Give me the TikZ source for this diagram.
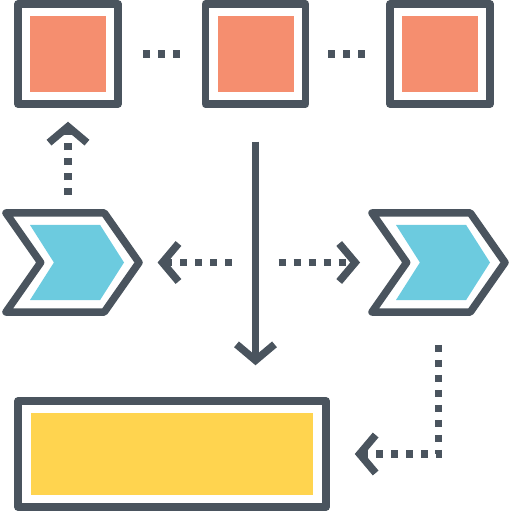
\documentclass[tikz,border=0pt]{standalone}
\usetikzlibrary{arrows.meta, positioning, shapes.symbols}

\definecolor{slate}{HTML}{4A545E}
\definecolor{salmon}{HTML}{F58E6F}
\definecolor{skyfill}{HTML}{6CCBDF}
\definecolor{sunfill}{HTML}{FFD44F}

\begin{document}
\begin{tikzpicture}[
  x=0.5pt, y=-0.5pt,
  frame/.style={rectangle, draw=slate, line width=3.75pt, line join=round,
    minimum width=50pt, minimum height=50pt, inner sep=0pt},
  tile/.style={rectangle, fill=salmon, minimum width=38pt, minimum height=38pt,
    inner sep=0pt},
  chev/.style={signal, signal to=east, signal from=west, signal pointer angle=110,
    draw=slate, line width=3.75pt, line join=round,
    minimum width=66.5pt, minimum height=49.5pt, inner sep=0pt},
  chevfill/.style={signal, signal to=east, signal from=west, signal pointer angle=115,
    fill=skyfill, minimum width=47pt, minimum height=37.5pt, inner sep=0pt},
  bar/.style={rectangle, draw=slate, line width=3.75pt, line join=round,
    minimum width=154pt, minimum height=53pt, inner sep=0pt},
  barfill/.style={rectangle, fill=sunfill, minimum width=141pt, minimum height=41pt,
    inner sep=0pt},
  flow/.style={-{Straight Barb[length=8pt, width=19pt, sharp]}, draw=slate,
    line width=3.75pt},
  dots/.style={draw=slate, line width=3.75pt, dash pattern=on 3.5pt off 4pt},
  dotarr/.style={dots, -{Straight Barb[length=8pt, width=19pt, sharp]}},
]
\useasboundingbox (0,0) rectangle (512,512);

% Top row of squares
\node[frame] (sq1) at (68,54) {};
\node[frame, right=40pt of sq1] (sq2) {};
\node[frame, right=38.5pt of sq2] (sq3) {};
\node[tile] (tile1) at (sq1) {};
\node[tile] (tile2) at (sq2) {};
\node[tile] (tile3) at (sq3) {};

% Chevrons
\node[chev] (lchev) at (72.5,262.5) {};
\node[chev] (rchev) at (438.5,262.5) {};
\node[chevfill, xshift=2.25pt] (lfill) at (lchev) {};
\node[chevfill, xshift=2.25pt] (rfill) at (rchev) {};

% Bottom bar
\node[bar] (bar) at (172,454) {};
\node[barfill] (fill) at (bar) {};

% Links
\draw[dots, shorten <=10.5pt, shorten >=11pt] (sq1) -- (sq2);
\draw[dots, shorten <=9.5pt, shorten >=10.4pt] (sq2) -- (sq3);
\draw[flow, shorten <=17pt, shorten >=16pt] (sq2) -- (sq2 |- bar.north);

\coordinate (hub) at (sq2 |- lchev);
\draw[dotarr, shorten <=12pt, shorten >=7pt] (hub) -- (lchev);
\draw[dotarr, shorten <=11.5pt, shorten >=21pt] (hub) -- (rchev.west);
\draw[dotarr, shorten <=7pt, shorten >=7pt] (lchev.north -| sq1) -- (sq1);
\draw[dotarr, shorten <=14.5pt, shorten >=12.5pt] (rchev.south) |- (bar.east);

\end{tikzpicture}
\end{document}
